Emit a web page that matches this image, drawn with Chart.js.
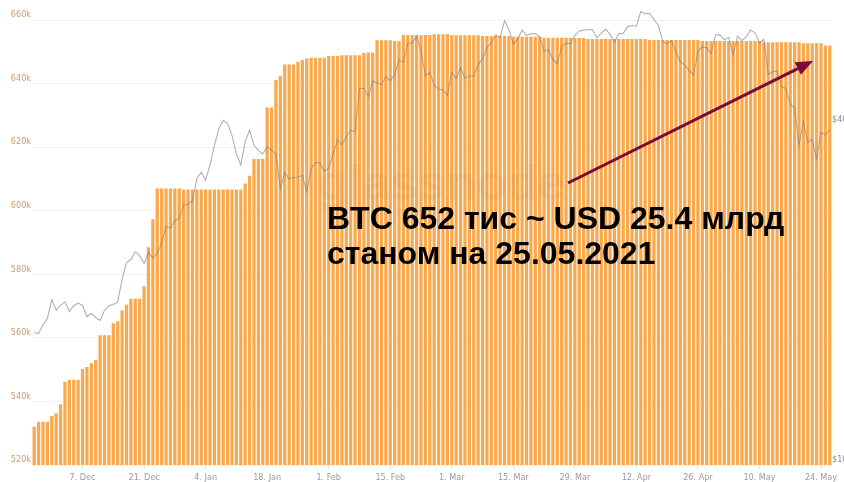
<!DOCTYPE html>
<html>
<head>
<meta charset="utf-8">
<script src="https://cdn.jsdelivr.net/npm/chart.js@4/dist/chart.umd.min.js"></script>
<style>
  html, body { margin: 0; padding: 0; background: #fff; overflow: hidden; }
  #wrap { width: 844px; height: 482px; overflow: hidden; position: relative; }
  canvas { display: block; }
</style>
</head>
<body>
<div id="wrap"><canvas id="chart" width="880" height="482"></canvas></div>
<script>
// Exchange BTC balance (thousands of BTC), daily, 26 Nov 2020 – 26 May 2021
const btcBalance = [
  532.0, 533.6, 533.6, 533.6, 535.4, 536.3, 539.1, 546.2, 546.8, 546.8,
  546.8, 550.2, 550.8, 552.0, 553.0, 560.8, 560.8, 560.8, 564.6, 565.2,
  568.7, 570.4, 572.3, 572.3, 572.3, 576.2, 588.5, 597.3, 607.0, 607.0,
  607.0, 607.0, 607.0, 607.0, 606.7, 606.7, 606.7, 606.7, 606.7, 606.7,
  606.7, 606.7, 606.7, 606.7, 606.7, 606.7, 606.7, 606.7, 608.6, 611.0,
  616.3, 616.3, 616.3, 632.5, 632.5, 641.1, 642.4, 646.0, 646.0, 646.0,
  646.9, 647.4, 647.9, 648.1, 648.1, 648.1, 648.1, 648.7, 648.7, 648.7,
  648.9, 648.9, 648.9, 648.9, 648.9, 649.6, 649.8, 649.8, 653.6, 653.6,
  653.6, 653.6, 653.4, 653.4, 655.3, 655.3, 655.3, 655.3, 655.3, 655.3,
  655.3, 655.5, 655.5, 655.5, 655.5, 655.2, 655.2, 655.2, 655.2, 655.2,
  655.2, 655.2, 655.0, 655.0, 655.0, 655.0, 655.0, 655.0, 655.0, 654.7,
  654.7, 654.7, 654.7, 654.7, 654.7, 654.7, 654.4, 654.4, 654.4, 654.4,
  654.4, 654.4, 654.4, 654.3, 654.3, 654.3, 654.0, 654.0, 654.0, 654.0,
  654.0, 654.0, 654.0, 654.0, 654.0, 654.0, 654.0, 654.0, 654.0, 654.0,
  653.7, 653.7, 653.7, 653.7, 653.7, 653.7, 653.7, 653.7, 653.7, 653.7,
  653.7, 653.7, 653.4, 653.4, 653.4, 653.4, 653.4, 653.4, 653.4, 653.4,
  653.4, 653.4, 653.4, 653.4, 653.4, 653.4, 653.0, 653.0, 653.0, 653.0,
  653.0, 653.0, 653.0, 653.0, 653.0, 652.7, 652.7, 652.7, 652.7, 652.7,
  652.0, 652.0
];

// BTC price in USD, daily close, same days
const btcPrice = [
  17150, 17110, 17720, 18180, 19630, 18800, 19200, 19450, 18700, 19150,
  19360, 19170, 18320, 18550, 18250, 18030, 18800, 19140, 19250, 19430,
  21340, 22800, 23140, 23860, 23480, 22750, 23820, 23240, 23730, 24710,
  26440, 26270, 27080, 27360, 28840, 29000, 29370, 32130, 33000, 31970,
  33990, 36820, 39370, 40800, 40250, 38350, 35550, 34000, 37390, 39160,
  36830, 36070, 35550, 36630, 36070, 35540, 30830, 33000, 32100, 32290,
  32370, 32570, 30430, 33470, 34320, 34300, 33110, 33540, 35540, 37680,
  36950, 38150, 39240, 38870, 46400, 46480, 44920, 47910, 47500, 47170,
  48720, 47950, 49170, 52150, 51680, 55890, 55920, 57500, 54090, 48890,
  49640, 47060, 46280, 46150, 45140, 49600, 48380, 50540, 48440, 48860,
  48880, 51200, 52380, 54880, 55950, 57750, 57230, 61190, 59000, 55640,
  56800, 58920, 57650, 58030, 58100, 57350, 54100, 54340, 52300, 51320,
  55030, 55840, 55780, 57630, 58730, 58920, 59000, 59060, 57090, 58200,
  59130, 57990, 56030, 58090, 58140, 59770, 60020, 59860, 63540, 62970,
  63110, 61530, 60040, 56220, 55720, 56470, 53910, 51760, 51090, 50050,
  49000, 54020, 55030, 54820, 53550, 57750, 57830, 56630, 57210, 53240,
  57470, 56430, 57380, 58930, 58280, 55860, 56770, 49150, 49720, 49880,
  46760, 46430, 43540, 42910, 36830, 40600, 37290, 37720, 34770, 38810,
  38400, 39300
];

const monthNames = ['Jan', 'Feb', 'Mar', 'Apr', 'May', 'Jun', 'Jul', 'Aug', 'Sep', 'Oct', 'Nov', 'Dec'];

// One category per day, starting 26 Nov 2020
const categories = btcBalance.map((_, i) => {
  const d = new Date(Date.UTC(2020, 10, 26 + i));
  return d.getUTCDate() + '. ' + monthNames[d.getUTCMonth()];
});

const xTickLabels = ['7. Dec', '21. Dec', '4. Jan', '18. Jan', '1. Feb', '15. Feb', '1. Mar',
                     '15. Mar', '29. Mar', '12. Apr', '26. Apr', '10. May', '24. May'];
const balanceTicks = [520, 540, 560, 580, 600, 620, 640, 660];
const priceTicks = [10000, 40000];

const noteLines = ['BTC 652 тис ~ USD 25.4 млрд', 'станом на 25.05.2021'];

const axisFont = { family: '"Liberation Sans Narrow", "DejaVu Sans Condensed", "Liberation Sans", Arial, sans-serif', size: 9 };

// Watermark, arrow and caption drawn over the plot
const overlay = {
  id: 'overlay',
  afterDatasetsDraw(chart) {
    const c = chart.ctx;
    c.save();
    c.font = 'bold 50px "Liberation Sans", Arial, sans-serif';
    c.fillStyle = 'rgba(90,90,90,0.06)';
    c.textBaseline = 'alphabetic';
    c.fillText('glassnode', 318, 200);
    c.restore();
  },
  afterDraw(chart) {
    const c = chart.ctx;
    c.save();
    // arrow
    const x0 = 568, y0 = 183, x1 = 813, y1 = 61;
    const ang = Math.atan2(y1 - y0, x1 - x0);
    const headLen = 17, headHalf = 7;
    const bx = x1 - headLen * Math.cos(ang), by = y1 - headLen * Math.sin(ang);
    c.strokeStyle = '#7a0b37';
    c.fillStyle = '#7a0b37';
    c.lineWidth = 3;
    c.beginPath();
    c.moveTo(x0, y0);
    c.lineTo(bx, by);
    c.stroke();
    c.beginPath();
    c.moveTo(x1, y1);
    c.lineTo(bx + headHalf * Math.sin(ang), by - headHalf * Math.cos(ang));
    c.lineTo(bx - headHalf * Math.sin(ang), by + headHalf * Math.cos(ang));
    c.closePath();
    c.fill();
    // caption
    c.font = 'bold 32px "Liberation Sans", Arial, sans-serif';
    c.fillStyle = '#000';
    c.textBaseline = 'alphabetic';
    c.fillText(noteLines[0], 327, 229);
    c.fillText(noteLines[1], 327, 264);
    c.restore();
  }
};

new Chart(document.getElementById('chart'), {
  data: {
    labels: categories,
    datasets: [
      {
        type: 'line',
        label: 'Price',
        data: btcPrice,
        yAxisID: 'yPrice',
        borderColor: 'rgba(125,125,125,0.6)',
        borderWidth: 1.1,
        pointRadius: 0,
        tension: 0,
        clip: false,
        order: 0
      },
      {
        type: 'bar',
        label: 'Balance on exchanges',
        data: btcBalance,
        yAxisID: 'yBal',
        backgroundColor: 'rgb(250,168,76)',
        barPercentage: 0.74,
        categoryPercentage: 1.0,
        order: 1
      }
    ]
  },
  options: {
    responsive: false,
    animation: false,
    devicePixelRatio: 1,
    layout: { padding: { top: 20, left: 0, right: 0, bottom: 0 } },
    plugins: { legend: { display: false }, tooltip: { enabled: false } },
    scales: {
      x: {
        type: 'category',
        offset: true,
        grid: { drawOnChartArea: false, drawTicks: true, tickLength: 4, offset: false, color: '#e3e3e3' },
        border: { display: false },
        afterBuildTicks(scale) {
          scale.ticks = scale.ticks.filter(t => xTickLabels.includes(categories[t.value]));
        },
        ticks: {
          autoSkip: false,
          maxRotation: 0,
          padding: 3,
          color: '#9a9a9a',
          font: axisFont,
          callback(v) { return categories[v]; }
        },
        afterFit(scale) { scale.height = 17; }
      },
      yBal: {
        position: 'left',
        min: 520,
        max: 660,
        afterBuildTicks(scale) { scale.ticks = balanceTicks.map(v => ({ value: v })); },
        grid: { color: '#f2f2f2', drawTicks: false },
        border: { display: false },
        ticks: {
          padding: 1,
          labelOffset: -5,
          color: '#d39a6c',
          font: axisFont,
          callback: v => v + 'k'
        },
        afterFit(scale) { scale.width = 32; }
      },
      yPrice: {
        type: 'logarithmic',
        position: 'right',
        min: 10000,
        max: 61400,
        afterBuildTicks(scale) { scale.ticks = priceTicks.map(v => ({ value: v })); },
        grid: { display: false, drawTicks: false },
        border: { display: false },
        ticks: {
          padding: 0,
          labelOffset: -5,
          color: '#8a8a8a',
          font: axisFont,
          callback: v => '$' + (v / 1000) + 'k'
        },
        afterFit(scale) { scale.width = 48; }
      }
    }
  },
  plugins: [overlay]
});
</script>
</body>
</html>
